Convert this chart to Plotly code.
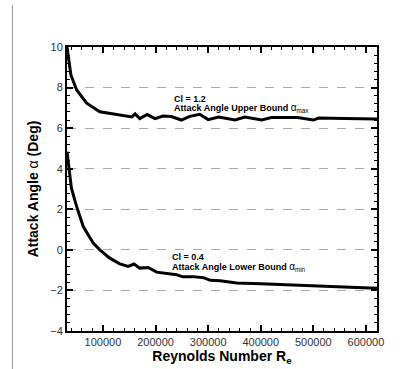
import plotly.graph_objects as go

# Upper bound curve (Cl = 1.2)
re_upper = [31600, 39000, 50000, 69000, 94000, 120000, 145000, 155000, 161000, 170000,
            184000, 199000, 214000, 230000, 249000, 265000, 284000, 300000, 320000,
            351000, 370000, 402000, 420000, 470000, 500000, 510000, 560000, 621000]
alpha_upper = [10.0, 8.62, 7.88, 7.23, 6.81, 6.70, 6.57, 6.55, 6.70, 6.47,
               6.67, 6.47, 6.60, 6.57, 6.40, 6.58, 6.68, 6.42, 6.55,
               6.40, 6.55, 6.40, 6.52, 6.52, 6.40, 6.50, 6.48, 6.45]

# Lower bound curve (Cl = 0.4)
re_lower = [31600, 34000, 40000, 50000, 62500, 81500, 94000, 113000, 132000, 148000,
            159000, 170000, 186000, 202000, 221000, 240000, 252000, 271000, 291000,
            304000, 323000, 354000, 400000, 443000, 506000, 570000, 621000]
alpha_lower = [4.84, 4.27, 3.04, 2.13, 1.15, 0.33, 0.0, -0.41, -0.69, -0.82,
               -0.70, -0.90, -0.87, -1.10, -1.15, -1.23, -1.33, -1.32, -1.37,
               -1.50, -1.52, -1.63, -1.67, -1.72, -1.77, -1.84, -1.89]

x_range = [31600, 621000]
y_range = [-4, 10]

FONT = "Liberation Sans, Arial, sans-serif"

fig = go.Figure()
fig.update_layout(template="none")
for xs, ys in [(re_upper, alpha_upper), (re_lower, alpha_lower)]:
    fig.add_trace(go.Scatter(x=xs, y=ys, mode="lines",
                             line=dict(color="black", width=3),
                             showlegend=False, hoverinfo="skip"))

alpha_span = "<span style='font-weight:normal;font-size:10px'>α</span>"
annots = [
    (232000, 7.46, "<b>Cl = 1.2</b>"),
    (232000, 7.0, "<b>Attack Angle Upper Bound </b>" + alpha_span + "<sub>max</sub>"),
    (228000, -0.36, "<b>Cl = 0.4</b>"),
    (228000, -0.86, "<b>Attack Angle Lower Bound </b>" + alpha_span + "<sub>min</sub>"),
]
for x, y, t in annots:
    fig.add_annotation(x=x, y=y, text=t, showarrow=False, xanchor="left",
                       yanchor="middle", font=dict(family=FONT, size=9, color="black"))

fig.add_shape(type="line", xref="paper", yref="paper",
              x0=-0.176, x1=-0.176, y0=1.148, y1=-0.14,
              line=dict(color="#999999", width=1))

fig.update_xaxes(
    range=x_range, tick0=0, dtick=100000, tickformat="d",
    ticks="inside", ticklen=6, tickwidth=2, tickcolor="black",
    minor=dict(dtick=20000, ticks="inside", ticklen=3, tickcolor="black",
               tickwidth=1, showgrid=False),
    showline=True, linewidth=2, linecolor="black", mirror="allticks",
    showgrid=False, zeroline=False,
    tickfont=dict(family=FONT, size=11, color="#333333"),
    title=dict(text="<b>Reynolds Number R<sub>e</sub></b>",
               font=dict(family=FONT, size=14, color="black"), standoff=4),
)
fig.update_yaxes(
    range=y_range, tick0=0, dtick=2,
    ticks="inside", ticklen=6, tickwidth=2, tickcolor="black",
    minor=dict(dtick=0.4, ticks="inside", ticklen=3, tickcolor="black",
               tickwidth=1, showgrid=False),
    showline=True, linewidth=2, linecolor="black", mirror="allticks",
    showgrid=True, gridcolor="#aaaaaa", griddash="dash", gridwidth=1,
    zeroline=False,
    tickfont=dict(family=FONT, size=11, color="#333333"),
    title=dict(text="<b>Attack Angle </b><span style='font-weight:normal'>α</span><b> (Deg)</b>",
               font=dict(family=FONT, size=14, color="black"), standoff=8),
)

fig.update_layout(
    width=419, height=369,
    margin=dict(l=67, r=42, t=47, b=38),
    plot_bgcolor="white", paper_bgcolor="white",
    font=dict(family=FONT),
)

fig.write_html("out.html")
